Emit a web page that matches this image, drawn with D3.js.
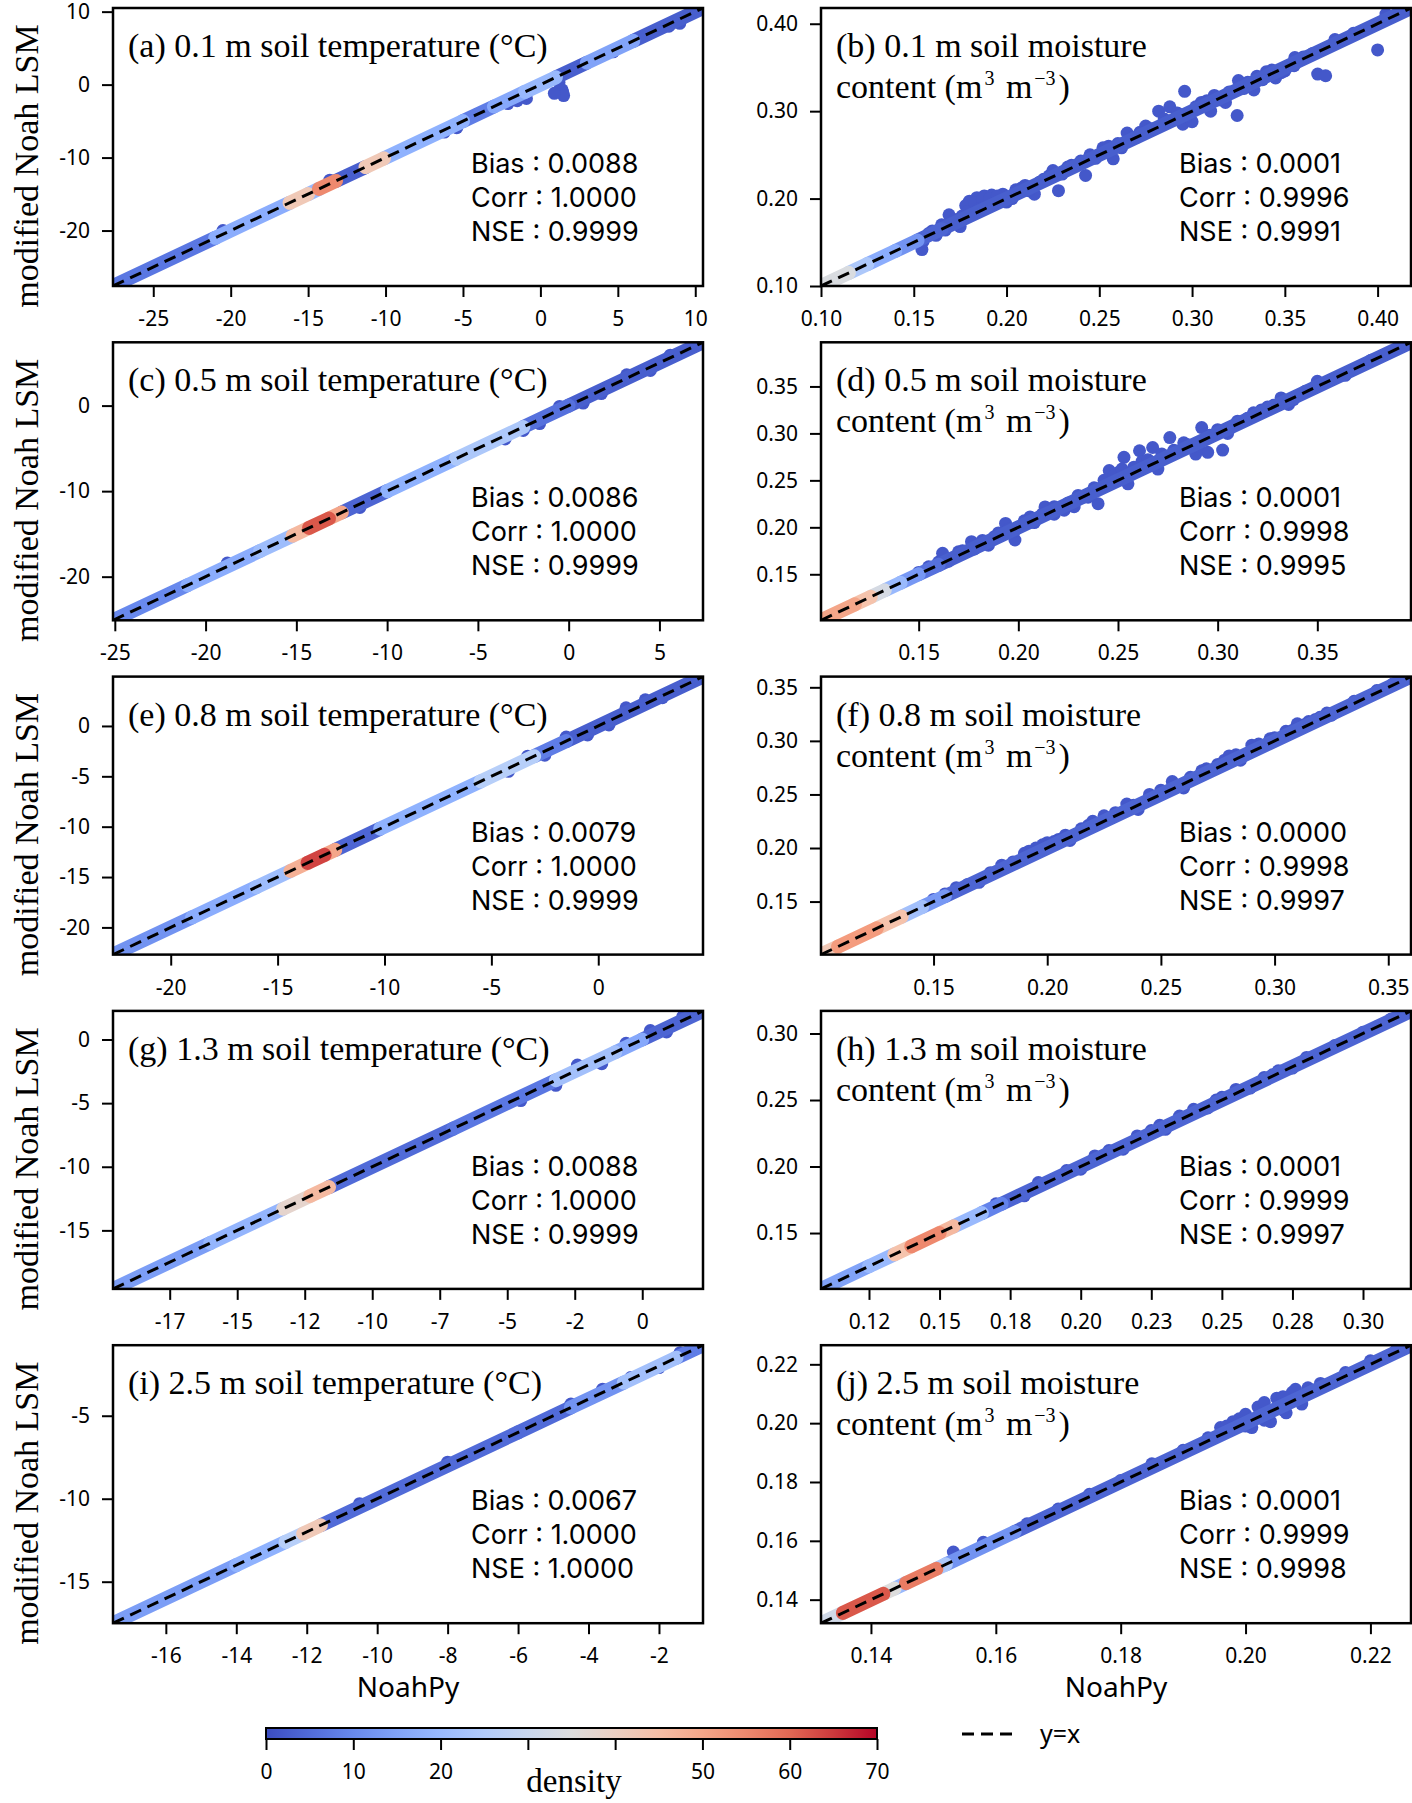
<!DOCTYPE html>
<html lang="en">
<head>
  <meta charset="UTF-8">
  <title>NoahPy vs modified Noah LSM</title>
  <script src="https://d3js.org/d3.v7.min.js"></script>
  <style>
    body { margin: 0; background: #fff; }
    .tick text { font-family: "Noto Sans", "Open Sans", sans-serif; font-size: 21px; fill: #000; }
    .tick line { stroke: #000; stroke-width: 2px; }
    .serif { font-family: "Liberation Serif", "DejaVu Serif", serif; }
    .sans { font-family: "Noto Sans", "Open Sans", sans-serif; }
    .stat { font-family: Inter, "Noto Sans", sans-serif; }
  </style>
</head>
<body>
<div id="chart"></div>
<script>
  // ---- data ----
  const panelTitles = [
    ["(a) 0.1 m soil temperature (°C)"],
    ["(b) 0.1 m soil moisture", "content (m³ m⁻³)"],
    ["(c) 0.5 m soil temperature (°C)"],
    ["(d) 0.5 m soil moisture", "content (m³ m⁻³)"],
    ["(e) 0.8 m soil temperature (°C)"],
    ["(f) 0.8 m soil moisture", "content (m³ m⁻³)"],
    ["(g) 1.3 m soil temperature (°C)"],
    ["(h) 1.3 m soil moisture", "content (m³ m⁻³)"],
    ["(i) 2.5 m soil temperature (°C)"],
    ["(j) 2.5 m soil moisture", "content (m³ m⁻³)"]
  ];
  const statBias = ["0.0088","0.0001","0.0086","0.0001","0.0079","0.0000","0.0088","0.0001","0.0067","0.0001"];
  const statCorr = ["1.0000","0.9996","1.0000","0.9998","1.0000","0.9998","1.0000","0.9999","1.0000","0.9999"];
  const statNse  = ["0.9999","0.9991","0.9999","0.9995","0.9999","0.9997","0.9999","0.9997","1.0000","0.9998"];

  const axisDomains = [
    [-27.6, 10.5], [0.100, 0.418],
    [-25.1, 7.4],  [0.101, 0.397],
    [-22.7, 4.9],  [0.1005, 0.360],
    [-19.6, 2.25], [0.108, 0.317],
    [-17.5, -0.75],[0.132, 0.2265]
  ];

  const xTicks = [
    [-25,-20,-15,-10,-5,0,5,10],
    [0.10,0.15,0.20,0.25,0.30,0.35,0.40],
    [-25,-20,-15,-10,-5,0,5],
    [0.15,0.20,0.25,0.30,0.35],
    [-20,-15,-10,-5,0],
    [0.15,0.20,0.25,0.30,0.35],
    [-17.5,-15,-12.5,-10,-7.5,-5,-2.5,0],
    [0.125,0.15,0.175,0.20,0.225,0.25,0.275,0.30],
    [-16,-14,-12,-10,-8,-6,-4,-2],
    [0.14,0.16,0.18,0.20,0.22]
  ];
  const xTickLabels = [
    ["-25","-20","-15","-10","-5","0","5","10"],
    ["0.10","0.15","0.20","0.25","0.30","0.35","0.40"],
    ["-25","-20","-15","-10","-5","0","5"],
    ["0.15","0.20","0.25","0.30","0.35"],
    ["-20","-15","-10","-5","0"],
    ["0.15","0.20","0.25","0.30","0.35"],
    ["-17","-15","-12","-10","-7","-5","-2","0"],
    ["0.12","0.15","0.18","0.20","0.23","0.25","0.28","0.30"],
    ["-16","-14","-12","-10","-8","-6","-4","-2"],
    ["0.14","0.16","0.18","0.20","0.22"]
  ];
  const yTicks = [
    [-20,-10,0,10],
    [0.10,0.20,0.30,0.40],
    [-20,-10,0],
    [0.15,0.20,0.25,0.30,0.35],
    [-20,-15,-10,-5,0],
    [0.15,0.20,0.25,0.30,0.35],
    [-15,-10,-5,0],
    [0.15,0.20,0.25,0.30],
    [-15,-10,-5],
    [0.14,0.16,0.18,0.20,0.22]
  ];
  const yTickLabels = [
    ["-20","-10","0","10"],
    ["0.10","0.20","0.30","0.40"],
    ["-20","-10","0"],
    ["0.15","0.20","0.25","0.30","0.35"],
    ["-20","-15","-10","-5","0"],
    ["0.15","0.20","0.25","0.30","0.35"],
    ["-15","-10","-5","0"],
    ["0.15","0.20","0.25","0.30"],
    ["-15","-10","-5"],
    ["0.14","0.16","0.18","0.20","0.22"]
  ];

  // dense band along y=x : [x, density at that stretch]
  const bandA = [[-27.6,7],[-21,17],[-16.2,42],[-15,20],[-14.3,55],[-13.2,3],[-11.3,42],[-10.1,18],[-5,8],[-3,16],[-1,20],[1,3],[3,15],[6,3],[10.5,3]];
  const bandB = [[0.100,34],[0.115,24],[0.125,17],[0.14,12],[0.152,4],[0.165,3],[0.418,3]];
  const bandC = [[-25.1,10],[-21,17],[-17,21],[-15.2,46],[-14.3,62],[-13.2,50],[-12.5,4],[-10,18],[-6.2,24],[-2.5,6],[0,3],[7.4,3]];
  const bandD = [[0.101,50],[0.118,44],[0.126,33],[0.133,20],[0.141,13],[0.15,6],[0.16,3],[0.397,3]];
  const bandE = [[-22.7,12],[-19,17],[-16,21],[-14.4,48],[-13.6,64],[-12.8,50],[-12.3,4],[-10.2,18],[-5.5,26],[-3,8],[-1.5,3],[4.9,3]];
  const bandF = [[0.1005,42],[0.108,52],[0.125,44],[0.136,22],[0.145,13],[0.155,4],[0.36,3]];
  const bandG = [[-19.6,14],[-16,19],[-13.3,38],[-12.3,46],[-11.6,5],[-7,7],[-3.2,22],[-1,16],[0,4],[2.25,3]];
  const bandH = [[0.108,15],[0.125,20],[0.134,44],[0.14,55],[0.15,46],[0.155,20],[0.165,9],[0.172,4],[0.317,3]];
  const bandI = [[-17.5,14],[-14,18],[-12.6,26],[-12.1,42],[-11.6,5],[-6,5],[-4.5,12],[-3,22],[-1.5,8],[-0.75,8]];
  const bandJ = [[0.132,32],[0.1355,62],[0.142,35],[0.1438,20],[0.1456,57],[0.1505,24],[0.152,12],[0.163,4],[0.2265,3]];

  // scattered points off the band : [x, y]
  const ptsA = [[1.4,-0.7],[1.45,-1.1],[1.2,0.3],[1.5,-1.5],[0.9,-1.2],[-0.9,-1.9],[-2.1,-2.6],[-1.5,-2.2],[9.0,8.4],[8.3,8.0],[4.7,4.5],
    [-5.4,-5.9],[-6.2,-6.5],[-20.5,-20.0],[-13.6,-13.1]];
  const ptsB = [[0.400,0.370],[0.4045,0.411],[0.387,0.389],[0.377,0.382],[0.3677,0.3424],[0.372,0.3405],[0.296,0.3227],[0.3243,0.295],[0.3554,0.3614],
    [0.2426,0.2265],[0.228,0.209],[0.1544,0.1417],[0.169,0.1814],[0.180,0.197],[0.184,0.201],[0.188,0.203],[0.192,0.204],[0.186,0.195],[0.19,0.198],
    [0.194,0.200],[0.182,0.190],[0.178,0.192],[0.3333,0.3242],[0.350,0.346],[0.282,0.300],[0.290,0.290],[0.295,0.285],[0.300,0.288],[0.288,0.305],
    [0.270,0.270],[0.265,0.275],[0.2575,0.2455],[0.210,0.215],[0.205,0.210],[0.215,0.205],[0.225,0.232],[0.235,0.238],[0.245,0.250],[0.252,0.258],
    [0.262,0.258],[0.275,0.283],[0.305,0.310],[0.312,0.318],[0.318,0.310],[0.325,0.335],[0.340,0.345],[0.345,0.338],[0.160,0.163],[0.165,0.170],
    [0.172,0.176],[0.175,0.168],[0.198,0.205],[0.200,0.196],[0.220,0.222],[0.310,0.300],
    [0.155,0.151],[0.158,0.160],[0.162,0.158],[0.167,0.164],[0.170,0.173],[0.176,0.180],[0.179,0.185],[0.183,0.195],[0.187,0.199],[0.191,0.200],
    [0.196,0.197],[0.185,0.188],[0.195,0.203],[0.203,0.200],[0.208,0.212],[0.212,0.209],[0.218,0.219],[0.223,0.226],[0.230,0.228],[0.233,0.236],
    [0.240,0.243],[0.248,0.246],[0.255,0.260],[0.260,0.263],[0.268,0.270],[0.272,0.276],[0.278,0.280],[0.285,0.291],[0.292,0.298],[0.297,0.294],
    [0.302,0.305],[0.308,0.312],[0.315,0.313],[0.320,0.322],[0.328,0.326],[0.330,0.333],[0.335,0.340],[0.338,0.336],[0.343,0.347],[0.348,0.344],
    [0.355,0.352],[0.360,0.362],[0.365,0.366]];
  const ptsC = [[-3.5,-3.9],[-2.5,-2.9],[-1.6,-2.1],[-0.5,-0.1],[0.8,0.3],[1.8,1.4],[3.2,3.6],[4.5,4.1],[5.6,5.9],[-18.8,-18.4],[-11.5,-11.9]];
  const ptsD = [[0.377,0.378],[0.364,0.3618],[0.350,0.3554],[0.344,0.3449],[0.3356,0.3308],[0.3318,0.3378],[0.3025,0.2822],[0.295,0.2798],[0.289,0.278],
    [0.292,0.3062],[0.276,0.2956],[0.2674,0.285],[0.2608,0.2815],[0.253,0.2745],[0.2456,0.2604],[0.2456,0.2463],[0.255,0.2463],[0.240,0.2252],
    [0.2324,0.2322],[0.223,0.2182],[0.2134,0.2217],[0.2059,0.2111],[0.1983,0.1865],[0.1936,0.2041],[0.1765,0.1847],[0.162,0.1724],
    [0.283,0.290],[0.270,0.262],[0.262,0.270],[0.250,0.258],[0.238,0.242],[0.228,0.222],[0.218,0.214],[0.190,0.194],[0.185,0.181],[0.170,0.174],
    [0.310,0.313],[0.318,0.322],[0.325,0.328],[0.305,0.300],
    [0.150,0.152],[0.155,0.158],[0.160,0.163],[0.165,0.164],[0.172,0.175],[0.178,0.177],[0.182,0.186],[0.188,0.190],[0.195,0.198],[0.198,0.196],
    [0.203,0.207],[0.208,0.205],[0.212,0.214],[0.218,0.222],[0.225,0.226],[0.230,0.234],[0.235,0.232],[0.243,0.250],[0.248,0.255],[0.252,0.262],
    [0.258,0.264],[0.265,0.272],[0.272,0.278],[0.278,0.282],[0.285,0.288],[0.290,0.286],[0.296,0.298],[0.300,0.304],[0.315,0.316],[0.322,0.325],
    [0.328,0.330],[0.333,0.335],[0.338,0.336]];
  const ptsE = [[-2.5,-2.9],[-1.5,-1.1],[-0.5,-0.9],[0.5,0.1],[1.3,1.8],[2.2,2.6],[3.0,2.8],[-4.2,-4.5],[-3.3,-3.0]];
  const ptsF = [[0.150,0.152],[0.160,0.163],[0.170,0.168],[0.180,0.184],[0.190,0.195],[0.195,0.200],[0.200,0.205],[0.205,0.208],[0.210,0.207],
    [0.220,0.225],[0.225,0.230],[0.235,0.241],[0.240,0.236],[0.245,0.250],[0.255,0.262],[0.260,0.256],[0.268,0.272],[0.275,0.278],[0.280,0.286],
    [0.285,0.282],[0.290,0.296],[0.298,0.302],[0.305,0.309],[0.310,0.316],[0.315,0.318],[0.320,0.322],[0.325,0.324],[0.335,0.337],[0.345,0.347],[0.352,0.353],
    [0.155,0.157],[0.165,0.166],[0.175,0.177],[0.185,0.187],[0.192,0.197],[0.198,0.203],[0.203,0.206],[0.208,0.212],[0.215,0.218],[0.218,0.221],
    [0.230,0.233],[0.238,0.240],[0.250,0.254],[0.258,0.258],[0.263,0.266],[0.270,0.274],[0.278,0.282],[0.283,0.287],[0.293,0.297],[0.300,0.303],
    [0.308,0.310],[0.313,0.315],[0.318,0.320],[0.323,0.326],[0.328,0.328]];
  const ptsG = [[-3.2,-3.6],[-2.4,-2.0],[-1.5,-1.9],[-0.6,-0.3],[0.3,0.7],[0.9,0.6],[1.5,1.8],[-4.5,-4.8]];
  const ptsH = [[0.170,0.172],[0.180,0.178],[0.185,0.188],[0.190,0.190],[0.200,0.198],[0.205,0.208],[0.210,0.212],[0.215,0.213],[0.220,0.223],
    [0.225,0.227],[0.230,0.228],[0.235,0.238],[0.240,0.243],[0.245,0.244],[0.250,0.252],[0.255,0.258],[0.260,0.259],[0.265,0.267],[0.270,0.272],
    [0.275,0.274],[0.280,0.282],[0.290,0.291],[0.300,0.301],[0.305,0.305],[0.310,0.311],[0.195,0.197],[0.228,0.231],[0.248,0.250],[0.268,0.269]];
  const ptsI = [[-4.5,-4.3],[-3.6,-3.4],[-2.8,-2.7],[-2.0,-2.1],[-1.4,-1.2],[-10.5,-10.3],[-8.0,-7.8]];
  const ptsJ = [[0.199,0.2015],[0.202,0.2055],[0.205,0.2085],[0.2075,0.2105],[0.201,0.1985],[0.204,0.2005],[0.2065,0.2035],[0.209,0.2065],
    [0.196,0.1985],[0.2035,0.203],[0.1532,0.1562],[0.158,0.1595],[0.165,0.1658],[0.170,0.1708],[0.175,0.1758],[0.180,0.1805],[0.185,0.1862],
    [0.190,0.1908],[0.194,0.195],[0.212,0.2135],[0.216,0.2172],[0.220,0.2212],[0.224,0.2245],
    [0.198,0.2005],[0.200,0.203],[0.203,0.207],[0.206,0.209],[0.208,0.2115],[0.210,0.212],[0.200,0.1990],[0.203,0.2010],[0.206,0.2045],
    [0.2085,0.2080],[0.211,0.2110],[0.197,0.199]];

  const bands = [bandA, bandB, bandC, bandD, bandE, bandF, bandG, bandH, bandI, bandJ];
  const scatter = [ptsA, ptsB, ptsC, ptsD, ptsE, ptsF, ptsG, ptsH, ptsI, ptsJ];

  const densityTicks = [0,10,20,30,40,50,60,70];
  const densityLabels = ["0","10","20","","","50","60","70"];

  // ---- layout ----
  const W = 1412, H = 1803;
  const colLeft = [113, 821], panelW = 590, panelH = 278;
  const rowTop = r => 8 + r * 334.3;

  const coolwarm = d3.scaleSequential(
      d3.piecewise(d3.interpolateRgb, ["#3b4cc0","#6282ea","#8db0fe","#b8d0f9","#dddddd","#f5c4ad","#f49a7b","#de604d","#b40426"]))
    .domain([0, 70]);

  const svg = d3.select("#chart").append("svg")
    .attr("width", W).attr("height", H)
    .style("display", "block");

  const superChars = { "³": "3", "⁻": "−" };

  panelTitles.forEach((title, i) => {
    const col = i % 2, row = Math.floor(i / 2);
    const left = colLeft[col], top = rowTop(row);
    const dom = axisDomains[i];
    const x = d3.scaleLinear().domain(dom).range([0, panelW]);
    const y = d3.scaleLinear().domain(dom).range([panelH, 0]);

    const g = svg.append("g").attr("transform", `translate(${left},${top})`);

    g.append("clipPath").attr("id", "clip" + i)
      .append("rect").attr("width", panelW).attr("height", panelH);

    const plot = g.append("g").attr("clip-path", `url(#clip${i})`);

    // off-band scatter points
    plot.selectAll("circle.pt")
      .data(scatter[i])
      .join("circle")
      .attr("class", "pt")
      .attr("cx", d => x(d[0]))
      .attr("cy", d => y(d[1]))
      .attr("r", 6.5)
      .attr("fill", coolwarm(2));

    // band segments, low density first so hot spots sit on top
    const segs = d3.pairs(bands[i]).map(([a, b]) => ({ x0: a[0], x1: b[0], d: a[1] }));
    segs.sort((a, b) => a.d - b.d);
    plot.selectAll("line.seg")
      .data(segs)
      .join("line")
      .attr("class", "seg")
      .attr("x1", s => x(s.x0)).attr("y1", s => y(s.x0))
      .attr("x2", s => x(s.x1)).attr("y2", s => y(s.x1))
      .attr("stroke", s => coolwarm(s.d))
      .attr("stroke-width", 14)
      .attr("stroke-linecap", "round");

    // y = x reference
    plot.append("line")
      .attr("x1", x(dom[0])).attr("y1", y(dom[0]))
      .attr("x2", x(dom[1])).attr("y2", y(dom[1]))
      .attr("stroke", "#000")
      .attr("stroke-width", 3)
      .attr("stroke-dasharray", "12,7");

    // axes
    g.append("g")
      .attr("transform", `translate(0,${panelH})`)
      .call(d3.axisBottom(x).tickValues(xTicks[i]).tickFormat((d, k) => xTickLabels[i][k]).tickSize(11).tickPadding(14))
      .call(a => a.select(".domain").remove());
    g.append("g")
      .call(d3.axisLeft(y).tickValues(yTicks[i]).tickFormat((d, k) => yTickLabels[i][k]).tickSize(11).tickPadding(12))
      .call(a => a.select(".domain").remove());

    g.append("rect")
      .attr("width", panelW).attr("height", panelH)
      .attr("fill", "none").attr("stroke", "#000").attr("stroke-width", 2.5);

    // title lines
    title.forEach((line, k) => {
      const t = g.append("text")
        .attr("class", "serif")
        .attr("x", 15).attr("y", 49 + k * 41)
        .style("font-size", "34px");
      let up = false;
      [...line].forEach(ch => {
        const isSup = ch in superChars;
        if (isSup && !up) {
          t.append("tspan").attr("dx", 2).attr("dy", -13).style("font-size", "20px").text(superChars[ch]);
          up = true;
        } else if (isSup) {
          t.append("tspan").style("font-size", "20px").text(superChars[ch]);
        } else if (up) {
          t.append("tspan").attr("dx", 3).attr("dy", 13).text(ch);
          up = false;
        } else {
          t.append("tspan").text(ch);
        }
      });
    });

    // statistics
    const stats = [`Bias : ${statBias[i]}`, `Corr : ${statCorr[i]}`, `NSE : ${statNse[i]}`];
    g.selectAll("text.stat")
      .data(stats)
      .join("text")
      .attr("class", "stat")
      .attr("x", 358)
      .attr("y", (d, k) => 165 + k * 34)
      .style("font-size", "27px")
      .text(d => d);

    if (col === 0) {
      svg.append("text")
        .attr("class", "serif")
        .attr("transform", `translate(38,${top + panelH / 2 + 19}) rotate(-90)`)
        .attr("text-anchor", "middle")
        .style("font-size", "34px")
        .text("modified Noah LSM");
    }
    if (row === 4) {
      svg.append("text")
        .attr("class", "sans")
        .attr("x", left + panelW / 2)
        .attr("y", top + panelH + 74)
        .attr("text-anchor", "middle")
        .style("font-size", "28px")
        .text("NoahPy");
    }
  });

  // ---- colorbar ----
  const cbX = d3.scaleLinear().domain([0, 70]).range([266, 877]);
  const cbTop = 1728, cbH = 11;
  const grad = svg.append("defs").append("linearGradient").attr("id", "cw");
  d3.range(0, 71, 5).forEach(v => {
    grad.append("stop").attr("offset", `${v / 70 * 100}%`).attr("stop-color", coolwarm(v));
  });
  svg.append("rect")
    .attr("x", cbX(0)).attr("y", cbTop)
    .attr("width", cbX(70) - cbX(0)).attr("height", cbH)
    .attr("fill", "url(#cw)")
    .attr("stroke", "#000").attr("stroke-width", 2);
  svg.append("g")
    .attr("transform", `translate(0,${cbTop + cbH})`)
    .call(d3.axisBottom(cbX).tickValues(densityTicks).tickFormat((d, k) => densityLabels[k]).tickSize(11).tickPadding(14))
    .call(a => a.select(".domain").remove());
  svg.append("text")
    .attr("class", "serif")
    .attr("x", 574).attr("y", 1792)
    .attr("text-anchor", "middle")
    .style("font-size", "33px")
    .text("density");

  // ---- legend ----
  svg.append("line")
    .attr("x1", 962).attr("x2", 1019)
    .attr("y1", 1734).attr("y2", 1734)
    .attr("stroke", "#000").attr("stroke-width", 3)
    .attr("stroke-dasharray", "12,7");
  svg.append("text")
    .attr("class", "sans")
    .attr("x", 1040).attr("y", 1743)
    .style("font-size", "25px")
    .text("y=x");
</script>
</body>
</html>
